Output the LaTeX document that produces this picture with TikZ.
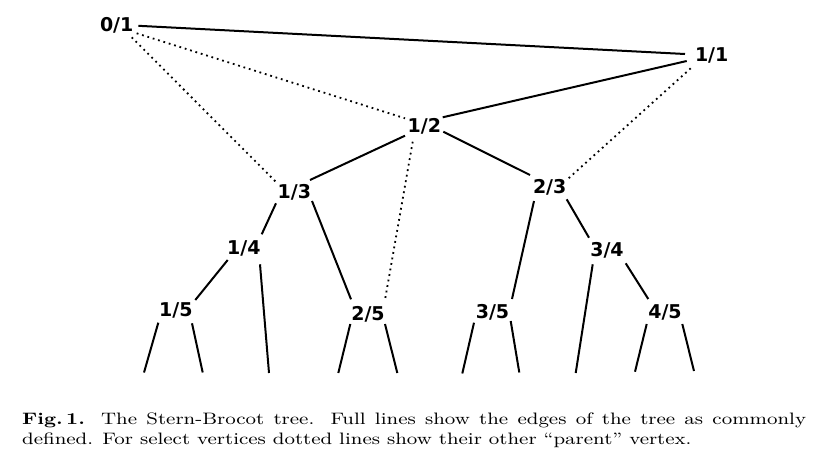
\documentclass[tikz,border=0pt]{standalone}
\usepackage{fontspec}
\usepackage{graphicx}
\newfontfamily\labfont{DejaVu Sans}
\tikzset{
  lab/.style={font={\labfont\bfseries\fontsize{19}{22}\selectfont}, inner sep=2pt},
  tedge/.style={line width=2pt},
  pedge/.style={line width=1.8pt, dash pattern=on 1.8pt off 3.8pt},
}
\begin{document}
\begin{tikzpicture}[x=1pt,y=-1pt]
\useasboundingbox (0,0) rectangle (840,474);
% vertices
\node[lab] (n01) at (116.7,25.8) {0/1};
\node[lab] (n11) at (711.7,55.8) {1/1};
\node[lab] (n12) at (424.3,126.7) {1/2};
\node[lab] (n13) at (294.3,192.8) {1/3};
\node[lab] (n23) at (549.7,187.2) {2/3};
\node[lab] (n14) at (243.8,248.5) {1/4};
\node[lab] (n34) at (607,250.5) {3/4};
\node[lab] (n15) at (175.8,310.5) {1/5};
\node[lab] (n25) at (368,314.2) {2/5};
\node[lab] (n35) at (492.5,312.5) {3/5};
\node[lab] (n45) at (665,312.5) {4/5};
% free ends of the lowest edges
\coordinate (l1) at (144,372.5);
\coordinate (l2) at (202.7,372.5);
\coordinate (l3) at (269,373);
\coordinate (l4) at (338.3,373);
\coordinate (l5) at (397.3,373);
\coordinate (l6) at (462.3,373.5);
\coordinate (l7) at (519.3,372.5);
\coordinate (l8) at (575.7,373);
\coordinate (l9) at (635,371.7);
\coordinate (l10) at (694,371);
% tree edges
\draw[tedge] ([shift={(21.6,0)}]n01.center) -- ([shift={(-26.7,-1.8)}]n11.center);
\draw[tedge] ([shift={(-25,5.2)}]n11.center) -- ([shift={(18.4,-9.4)}]n12.center);
\draw[tedge] ([shift={(-19.3,9)}]n12.center) -- ([shift={(15.7,-12.8)}]n13.center);
\draw[tedge] ([shift={(19,5)}]n12.center) -- ([shift={(-19.7,-12.2)}]n23.center);
\draw[tedge] ([shift={(-18.3,10.5)}]n13.center) -- ([shift={(17.9,-14.2)}]n14.center);
\draw[tedge] ([shift={(17.7,8.2)}]n13.center) -- ([shift={(-17,-14.9)}]n25.center);
\draw[tedge] ([shift={(-15.7,13.8)}]n23.center) -- ([shift={(19.5,-13.5)}]n35.center);
\draw[tedge] ([shift={(17,12.1)}]n23.center) -- ([shift={(-18,-12.8)}]n34.center);
\draw[tedge] ([shift={(-16.1,11.5)}]n14.center) -- ([shift={(19.5,-10.5)}]n15.center);
\draw[tedge] ([shift={(16.2,15.8)}]n14.center) -- (l3);
\draw[tedge] ([shift={(-14.3,13.8)}]n34.center) -- (l8);
\draw[tedge] ([shift={(18.7,12.8)}]n34.center) -- ([shift={(-16.7,-13.5)}]n45.center);
\draw[tedge] ([shift={(-17.5,12.2)}]n15.center) -- (l1);
\draw[tedge] ([shift={(16.2,12.8)}]n15.center) -- (l2);
\draw[tedge] ([shift={(-17.7,9.8)}]n25.center) -- (l4);
\draw[tedge] ([shift={(17,9.8)}]n25.center) -- (l5);
\draw[tedge] ([shift={(-18.5,10.2)}]n35.center) -- (l6);
\draw[tedge] ([shift={(18.2,8.5)}]n35.center) -- (l7);
\draw[tedge] ([shift={(-18.3,11.5)}]n45.center) -- (l9);
\draw[tedge] ([shift={(17.3,11.5)}]n45.center) -- (l10);
% other parents
\draw[pedge] ([shift={(20,7.5)}]n01.center) -- ([shift={(-19.3,-8.4)}]n12.center);
\draw[pedge] ([shift={(15,11.5)}]n01.center) -- ([shift={(-17.6,-10.1)}]n13.center);
\draw[pedge] ([shift={(-21,12.5)}]n11.center) -- ([shift={(17,-7.2)}]n23.center);
\draw[pedge] ([shift={(-11.6,15)}]n12.center) -- ([shift={(17,-14.2)}]n25.center);
% caption
\node[anchor=north west, inner sep=0pt] (cap) at (22,412.5)
  {\scalebox{2.263}[1.84]{\parbox[t]{346.4pt}{\fontsize{9}{11}\selectfont
   \textbf{Fig.\,1.} The Stern-Brocot tree. Full lines show the edges of the tree as commonly\linebreak
   defined. For select vertices dotted lines show their other ``parent'' vertex.}}};
\end{tikzpicture}
\end{document}
